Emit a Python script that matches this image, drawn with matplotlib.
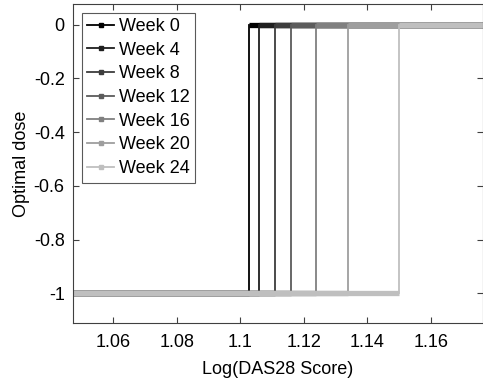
import matplotlib
matplotlib.use("Agg")
import matplotlib.pyplot as plt
from matplotlib.lines import Line2D

plt.rcParams['font.family'] = ['Liberation Sans', 'DejaVu Sans']
plt.rcParams['axes.unicode_minus'] = False

# week labels and switching points (log DAS28 score where dose goes -1 -> 0)
weeks = ['Week 0', 'Week 4', 'Week 8', 'Week 12', 'Week 16', 'Week 20', 'Week 24']
thresholds = [1.1027, 1.1059, 1.1108, 1.1158, 1.1239, 1.1339, 1.1498]
grays = [0.0, 0.12, 0.24, 0.36, 0.50, 0.62, 0.75]
x_start, x_end = 1.0474, 1.1764
low_dose, high_dose = -1, 0

xticks = [1.06, 1.08, 1.1, 1.12, 1.14, 1.16]
yticks = [0, -0.2, -0.4, -0.6, -0.8, -1]

fig = plt.figure(figsize=(4.83, 3.79), dpi=100)
ax = fig.add_axes([73 / 483, 56 / 379, 409.5 / 483, 319 / 379])

handles = []
for name, t, g in zip(weeks, thresholds, grays):
    c = (g, g, g)
    ax.plot([x_start, t], [low_dose, low_dose], color=c, lw=3.8, solid_capstyle='butt')
    ax.plot([t, t], [low_dose, high_dose], color=c, lw=1.3)
    ax.plot([t, x_end], [high_dose, high_dose], color=c, lw=3.8, solid_capstyle='butt')
    handles.append(Line2D([], [], color=c, lw=1.3, marker='s', markersize=2.5,
                          markeredgecolor=c, markerfacecolor=c))

ax.set_xlim(1.0474, 1.17616)
ax.set_ylim(-1.1106, 0.077)
ax.set_xticks(xticks)
ax.set_xticklabels(['1.06', '1.08', '1.1', '1.12', '1.14', '1.16'])
ax.set_yticks(yticks)
ax.set_yticklabels(['0', '-0.2', '-0.4', '-0.6', '-0.8', '-1'])
ax.tick_params(direction='in', length=4, width=0.8, top=True, right=True,
               labelsize=13, color='#404040')
ax.tick_params(axis='x', pad=8)
ax.tick_params(axis='y', pad=6)
for s in ax.spines.values():
    s.set_color('#404040')
    s.set_linewidth(0.8)

ax.set_xlabel('Log(DAS28 Score)', fontsize=13, labelpad=7)
ax.set_ylabel('Optimal dose', fontsize=13, labelpad=3)

leg = ax.legend(handles=handles, labels=weeks, loc='upper left', fontsize=13,
                bbox_to_anchor=(0.021, 0.973), frameon=True, fancybox=False,
                edgecolor='#303030', handlelength=1.5, handletextpad=0.25,
                borderpad=0.3, labelspacing=0.37, borderaxespad=0)
leg.get_frame().set_linewidth(0.8)

fig.savefig('out.png', dpi=100)
